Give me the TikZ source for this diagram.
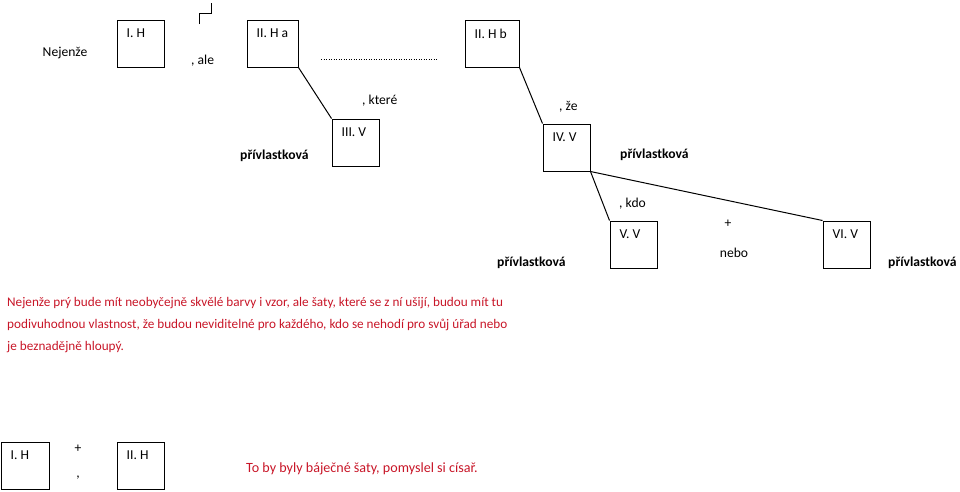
\documentclass[tikz,border=0pt]{standalone}
\usepackage{fontspec}
\setmainfont{Carlito}
\usetikzlibrary{positioning}

\definecolor{sentred}{RGB}{200,22,40}
\newcommand{\labelsize}{\fontsize{13.6}{22}\selectfont}

\tikzset{
    vbox/.style={draw, line width=1pt, minimum width=47pt, minimum height=47pt, inner sep=0pt},
    boxlabel/.style={anchor=north west, inner xsep=10pt, inner ysep=9.5pt},
    word/.style={inner sep=0pt, anchor=west},
    kind/.style={inner sep=0pt, anchor=west, font=\labelsize\bfseries},
    link/.style={line width=1pt},
    sentence/.style={inner sep=0pt, anchor=west, text=sentred, align=left}
}

\begin{document}
\begin{tikzpicture}[x=1pt, y=-1pt, font=\labelsize]
    \useasboundingbox (0,0) rectangle (960,491);

    % Define the clause boxes
    \node[vbox] (h1) at (140.5,43.5) {};
    \node[vbox, minimum width=51pt] (h2a) at (272.5,43.5) {};
    \node[vbox, minimum width=54pt] (h2b) at (492,43.5) {};
    \node[vbox] (v3) at (355.5,142.5) {};
    \node[vbox] (v4) at (566.5,147.5) {};
    \node[vbox] (v5) at (633.5,244.5) {};
    \node[vbox] (v6) at (846.5,244.5) {};

    % Labels inside the boxes
    \node[boxlabel] (h1-t) at (h1.north west) {I. H};
    \node[boxlabel] (h2a-t) at (h2a.north west) {II. H a};
    \node[boxlabel] (h2b-t) at (h2b.north west) {II. H b};
    \node[boxlabel] (v3-t) at (v3.north west) {III. V};
    \node[boxlabel] (v4-t) at (v4.north west) {IV. V};
    \node[boxlabel] (v5-t) at (v5.north west) {V. V};
    \node[boxlabel] (v6-t) at (v6.north west) {VI. V};

    % Dependencies
    \draw[link] (h2a.south east) -- (v3.north west);
    \draw[link] (h2b.south east) -- (v4.north west);
    \draw[link] (v4.south east) -- (v5.north west);
    \draw[link] (v4.south east) -- (v6.north west);

    % Conjunctions and marks
    \node[inner sep=0pt] (nej) at (65,53) {Nejenže};
    \node[word] (ale) at (191,61) {, ale};
    \draw[line width=1pt] (199,24) -- (199,13) -- (211,13) -- (211,3);
    \draw[line width=1pt, dash pattern=on 1pt off 1.5pt] (321,59) -- (437,59);
    \node[word] (ktere) at (362,101) {, které};
    \node[word] (ze) at (559,107) {, že};
    \node[word] (kdo) at (619,204) {, kdo};
    \node[inner sep=0pt] (plus) at (728,224) {+};
    \node[inner sep=0pt] (nebo) at (734,253) {nebo};

    % Clause types
    \node[kind] (k3) at (240,156) {přívlastková};
    \node[kind] (k4) at (620,155) {přívlastková};
    \node[kind] (k5) at (497,263) {přívlastková};
    \node[kind] (k6) at (888,263) {přívlastková};

    % The sentence
    \node[sentence, font=\fontsize{13.2}{22}\selectfont] (s1) at (7,325) {Nejenže prý bude mít neobyčejně skvělé barvy i vzor, ale šaty, které se z ní ušijí, budou mít tu\\podivuhodnou vlastnost, že budou neviditelné pro každého, kdo se nehodí pro svůj úřad nebo\\je beznadějně hloupý.};

    % Second sentence
    \node[vbox, minimum width=48pt] (b1) at (25,465.5) {};
    \node[vbox] (b2) at (140.5,465.5) {};
    \node[boxlabel] (b1-t) at (b1.north west) {I. H};
    \node[boxlabel] (b2-t) at (b2.north west) {II. H};
    \node[inner sep=0pt] (bplus) at (78,449) {+};
    \node[inner sep=0pt] (bcomma) at (78,478) {,};
    \node[sentence, font=\fontsize{14.1}{22}\selectfont] (s2) at (246,469) {To by byly báječné šaty, pomyslel si císař.};
\end{tikzpicture}
\end{document}
